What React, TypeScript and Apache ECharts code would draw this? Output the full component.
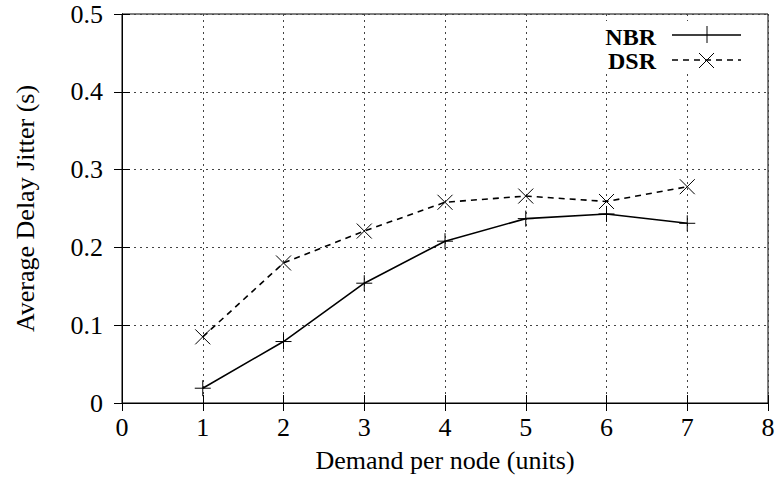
import React, { useEffect, useRef } from "react";
import * as echarts from "echarts";

const demand = [1, 2, 3, 4, 5, 6, 7];
const nbrJitter = [0.019, 0.079, 0.154, 0.208, 0.237, 0.243, 0.231];
const dsrJitter = [0.085, 0.18, 0.221, 0.258, 0.266, 0.259, 0.278];
const seriesNames = ["NBR", "DSR"];

const FONT = "Liberation Serif";
const plusPath = "path://M0,-10L0,10M-10,0L10,0";
const crossPath = "path://M-10,-10L10,10M-10,10L10,-10";

export default function App() {
  const ref = useRef<HTMLDivElement>(null);
  useEffect(() => {
    if (!ref.current) return;
    const chart = echarts.init(ref.current, null, { renderer: "svg" });
    const gridLine = { show: true, lineStyle: { color: "#444", width: 1, type: [2, 4] as any } };
    const tickIn = { show: true, inside: true, length: 8, lineStyle: { color: "#000" } };
    chart.setOption({
      animation: false,
      backgroundColor: "#fff",
      textStyle: { fontFamily: FONT },
      grid: { left: 122, right: 14, top: 14, bottom: 77, show: true, borderColor: "#000", borderWidth: 1 },
      xAxis: [
        {
          type: "value", min: 0, max: 8, interval: 1,
          name: "Demand per node (units)", nameLocation: "middle", nameGap: 44,
          nameTextStyle: { fontFamily: FONT, fontSize: 26, color: "#000" },
          axisLine: { show: true, lineStyle: { color: "#000" } },
          axisTick: tickIn,
          axisLabel: { fontFamily: FONT, fontSize: 26, color: "#000", margin: 11 },
          splitLine: gridLine,
        },
        {
          type: "value", min: 0, max: 8, interval: 1, position: "top",
          axisLine: { show: true, lineStyle: { color: "#000" } },
          axisTick: tickIn, axisLabel: { show: false }, splitLine: { show: false },
        },
      ],
      yAxis: [
        {
          type: "value", min: 0, max: 0.5, interval: 0.1,
          name: "Average Delay Jitter (s)", nameLocation: "middle", nameGap: 84,
          nameTextStyle: { fontFamily: FONT, fontSize: 26, color: "#000" },
          axisLine: { show: true, lineStyle: { color: "#000" } },
          axisTick: tickIn,
          axisLabel: { fontFamily: FONT, fontSize: 26, color: "#000", margin: 19 },
          splitLine: gridLine,
        },
        {
          type: "value", min: 0, max: 0.5, interval: 0.1, position: "right",
          axisLine: { show: true, lineStyle: { color: "#000" } },
          axisTick: tickIn, axisLabel: { show: false }, splitLine: { show: false },
        },
      ],
      series: [
        {
          name: seriesNames[0], type: "line",
          data: demand.map((d, i) => [d, nbrJitter[i]]),
          lineStyle: { color: "#000", width: 1.6, type: "solid" },
          symbol: plusPath, symbolSize: 16,
          itemStyle: { color: "none", borderColor: "#000", borderWidth: 1 },
          z: 5,
        },
        {
          name: seriesNames[1], type: "line",
          data: demand.map((d, i) => [d, dsrJitter[i]]),
          lineStyle: { color: "#000", width: 1.6, type: [6, 5] },
          symbol: crossPath, symbolSize: 15,
          itemStyle: { color: "none", borderColor: "#000", borderWidth: 1 },
          z: 5,
        },
      ],
      graphic: [
        { type: "rect", z: 50, shape: { x: 590, y: 21, width: 172, height: 50 }, style: { fill: "#fff" } },
        { type: "text", z: 51, x: 656, y: 36.5, style: { text: seriesNames[0], fontFamily: FONT, fontWeight: "bold", fontSize: 24, fill: "#000", align: "right", verticalAlign: "middle" } },
        { type: "text", z: 51, x: 656, y: 60.5, style: { text: seriesNames[1], fontFamily: FONT, fontWeight: "bold", fontSize: 24, fill: "#000", align: "right", verticalAlign: "middle" } },
        { type: "line", z: 51, shape: { x1: 672, y1: 35, x2: 741, y2: 35 }, style: { stroke: "#000", lineWidth: 1.6 } },
        { type: "line", z: 51, shape: { x1: 707, y1: 26, x2: 707, y2: 43 }, style: { stroke: "#000", lineWidth: 1 } },
        { type: "line", z: 51, shape: { x1: 672, y1: 60, x2: 741, y2: 60 }, style: { stroke: "#000", lineWidth: 1.6, lineDash: [6, 5] } },
        { type: "line", z: 51, shape: { x1: 699, y1: 53, x2: 714, y2: 68 }, style: { stroke: "#000", lineWidth: 1 } },
        { type: "line", z: 51, shape: { x1: 699, y1: 68, x2: 714, y2: 53 }, style: { stroke: "#000", lineWidth: 1 } },
      ],
    });
    return () => chart.dispose();
  }, []);
  return <div ref={ref} style={{ width: 782, height: 480, position: "absolute", left: 0, top: 0 }} />;
}
